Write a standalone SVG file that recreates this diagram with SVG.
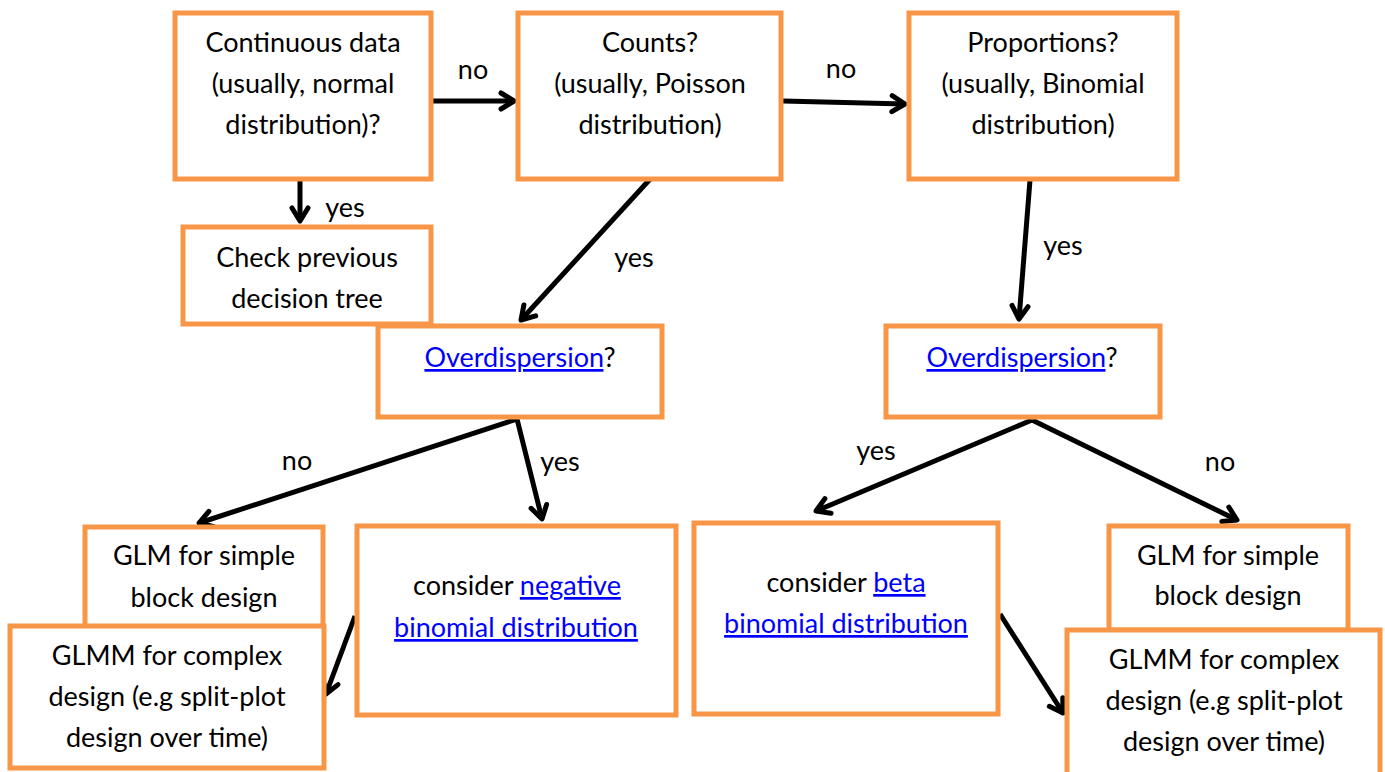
<svg xmlns="http://www.w3.org/2000/svg" width="1385" height="772" viewBox="0 0 1385 772">
  <defs>
    <style>
      .box { fill: #ffffff; stroke: #F79646; stroke-width: 5; }
      .t { font-family: Lato, "Liberation Sans", sans-serif; font-size: 27px; fill: #000000; text-anchor: middle; }
      .lbl { font-family: Lato, "Liberation Sans", sans-serif; font-size: 27px; fill: #000000; text-anchor: middle; }
      .link { fill: #0000FF; text-decoration: underline; }
      .conn { stroke: #000000; stroke-width: 5; fill: none; marker-end: url(#chev); }
    </style>
    <marker id="chev" markerUnits="userSpaceOnUse" viewBox="0 0 22 22" markerWidth="22" markerHeight="22" refX="18" refY="11" orient="auto">
      <path d="M5,3 L18,11 L5,19" fill="none" stroke="#000000" stroke-width="5" stroke-linecap="round" stroke-linejoin="round"/>
    </marker>
  </defs>

  <!-- connectors -->
  <g id="connectors">
    <line class="conn" x1="433" y1="101" x2="514" y2="101"/>
    <line class="conn" x1="783" y1="101" x2="905" y2="104"/>
    <line class="conn" x1="300" y1="180" x2="300" y2="221"/>
    <line class="conn" x1="652" y1="177" x2="521" y2="320"/>
    <line class="conn" x1="1030" y1="180" x2="1019" y2="319"/>
    <polyline class="conn" points="517,419 199,523"/>
    <line class="conn" x1="517" y1="419" x2="542" y2="519"/>
    <polyline class="conn" points="1032,420 816,511"/>
    <line class="conn" x1="1032" y1="420" x2="1237" y2="520"/>
    <line class="conn" x1="355" y1="616" x2="326" y2="694"/>
    <line class="conn" x1="1000" y1="614" x2="1063" y2="713"/>
    <text class="lbl" x="473" y="79">no</text>
    <text class="lbl" x="841" y="78">no</text>
    <text class="lbl" x="345" y="217">yes</text>
    <text class="lbl" x="634" y="267">yes</text>
    <text class="lbl" x="1063" y="255">yes</text>
    <text class="lbl" x="297" y="470">no</text>
    <text class="lbl" x="560" y="471">yes</text>
    <text class="lbl" x="876" y="460">yes</text>
    <text class="lbl" x="1220" y="471">no</text>
  </g>

  <g id="continuous">
    <rect class="box" x="175" y="13" width="256" height="166"/>
    <text class="t" x="303" y="52">Continuous data</text>
    <text class="t" x="303" y="93">(usually, normal</text>
    <text class="t" x="303" y="134">distribution)?</text>
  </g>

  <g id="counts">
    <rect class="box" x="518" y="13" width="263" height="166"/>
    <text class="t" x="650" y="52">Counts?</text>
    <text class="t" x="650" y="93">(usually, Poisson</text>
    <text class="t" x="650" y="134">distribution)</text>
  </g>

  <g id="proportions">
    <rect class="box" x="909" y="13" width="268" height="166"/>
    <text class="t" x="1043" y="52">Proportions?</text>
    <text class="t" x="1043" y="93">(usually, Binomial</text>
    <text class="t" x="1043" y="134">distribution)</text>
  </g>

  <g id="check-previous">
    <rect class="box" x="183" y="227" width="248" height="97"/>
    <text class="t" x="307" y="267">Check previous</text>
    <text class="t" x="307" y="308">decision tree</text>
  </g>

  <g id="overdispersion-left">
    <rect class="box" x="378" y="326" width="284" height="91"/>
    <text class="t" x="520" y="367"><tspan class="link">Overdispersion</tspan>?</text>
  </g>

  <g id="overdispersion-right">
    <rect class="box" x="886" y="326" width="274" height="91"/>
    <text class="t" x="1022" y="367"><tspan class="link">Overdispersion</tspan>?</text>
  </g>

  <g id="glm-left">
    <rect class="box" x="85" y="527" width="238" height="100"/>
    <text class="t" x="204" y="565">GLM for simple</text>
    <text class="t" x="204" y="607">block design</text>
  </g>

  <g id="glmm-left">
    <rect class="box" x="10" y="626" width="314" height="142"/>
    <text class="t" x="167" y="665">GLMM for complex</text>
    <text class="t" x="167" y="706">design (e.g split-plot</text>
    <text class="t" x="167" y="747">design over time)</text>
  </g>

  <g id="negative-binomial">
    <rect class="box" x="357" y="526" width="319" height="189"/>
    <text class="t" x="517" y="595">consider <tspan class="link">negative</tspan></text>
    <text class="t" x="516" y="637"><tspan class="link">binomial distribution</tspan></text>
  </g>

  <g id="beta-binomial">
    <rect class="box" x="694" y="523" width="304" height="191"/>
    <text class="t" x="846" y="592">consider <tspan class="link">beta</tspan></text>
    <text class="t" x="846" y="633"><tspan class="link">binomial distribution</tspan></text>
  </g>

  <g id="glm-right">
    <rect class="box" x="1109" y="526" width="239" height="104"/>
    <text class="t" x="1228" y="565">GLM for simple</text>
    <text class="t" x="1228" y="605">block design</text>
  </g>

  <g id="glmm-right">
    <rect class="box" x="1067" y="630" width="313" height="160"/>
    <text class="t" x="1224" y="669">GLMM for complex</text>
    <text class="t" x="1224" y="710">design (e.g split-plot</text>
    <text class="t" x="1224" y="751">design over time)</text>
  </g>
</svg>
